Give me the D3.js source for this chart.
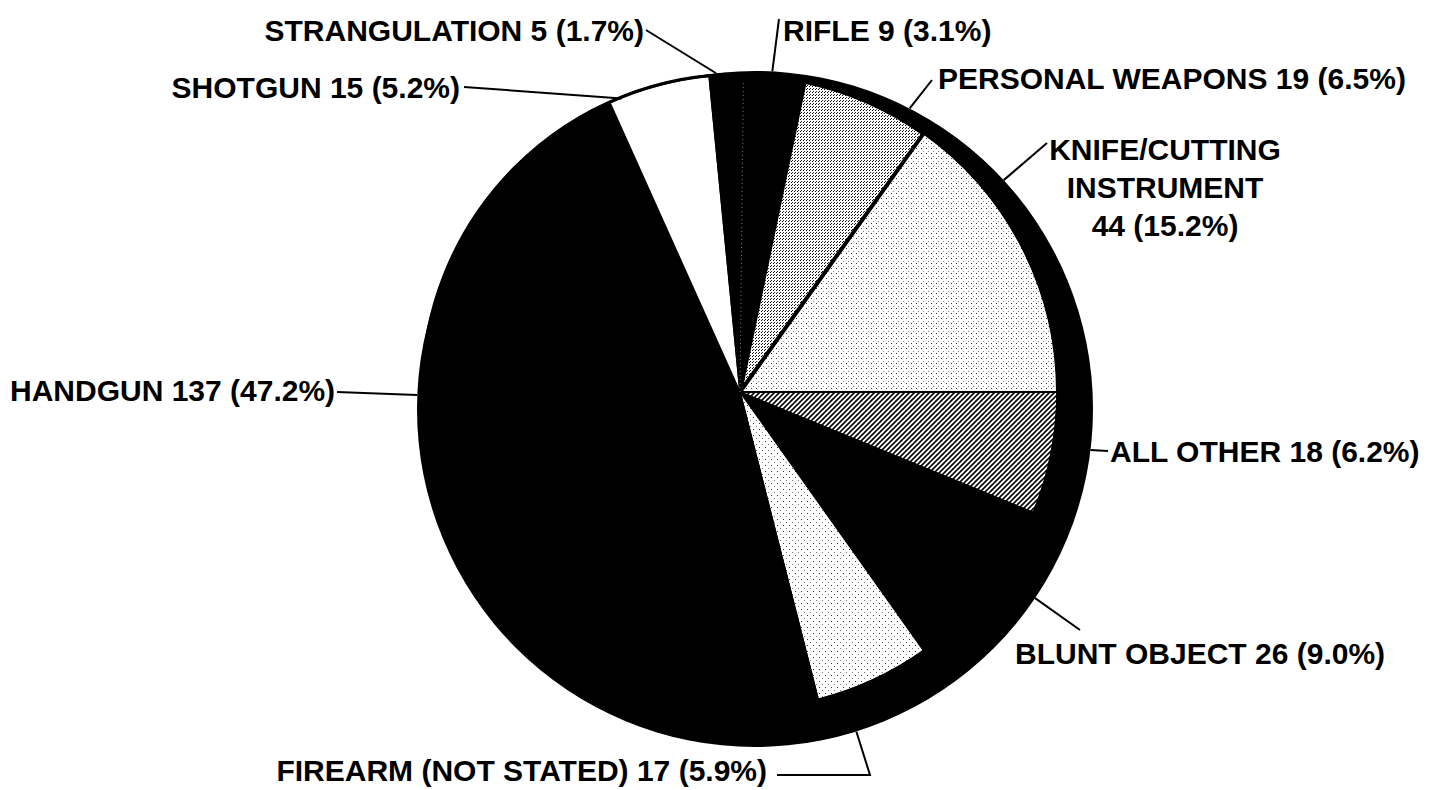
<!DOCTYPE html>
<html><head><meta charset="utf-8">
<script src="https://cdn.jsdelivr.net/npm/d3@7"></script>
<style>
html,body{margin:0;padding:0;background:#fff;}
svg{display:block;}
text{font-family:"Liberation Sans",Arial,Helvetica,sans-serif;font-weight:bold;font-size:30px;fill:#000;}
</style></head><body>
<svg id="chart" width="1433" height="790"></svg>
<script>
// ---- data (clockwise from 3 o'clock) ----
const categories = ["ALL OTHER","BLUNT OBJECT","FIREARM (NOT STATED)","HANDGUN","SHOTGUN","STRANGULATION","RIFLE","PERSONAL WEAPONS","KNIFE/CUTTING INSTRUMENT"];
const counts = [18,26,17,137,15,5,9,19,44];
const percents = ["6.2%","9.0%","5.9%","47.2%","5.2%","1.7%","3.1%","6.5%","15.2%"];

// ---- styles ----
const fills = ["url(#hatch)","#000","url(#dotsLight)","#000","#fff","#000","#000","url(#dotsDense)","url(#dotsSparse)"];
const strokeW = [1.5,1.5,1.5,1.5,1.5,1.5,1.5,4,2];

// ---- label layout ----
const labelLayout = [
  {x:1110, y:462, anchor:"start", from:[1108,451], frac:0.42},
  {x:1015, y:664, anchor:"start", from:[1080,630], frac:0.39},
  {x:767,  y:781, anchor:"end",   from:[777,775], via:[870,775], frac:0.78},
  {x:10,   y:401, anchor:"start", from:[337,392], frac:0.61},
  {x:460,  y:98,  anchor:"end",   from:[464,87], frac:0.12},
  {x:644,  y:41,  anchor:"end",   from:[646,30], frac:0.21},
  {x:783,  y:41,  anchor:"start", from:[779,19], frac:0.46},
  {x:938,  y:89,  anchor:"start", from:[932,80], frac:0.81},
  {x:1165, y:160, anchor:"middle", from:[1047,143], frac:0.29, lineH:38, multi:true}
];

const W = 1433, H = 790;
const cx = 740, cy = 392, r = 318;
const rimDx = 15, rimDy = 17, rimR = 338;

const svg = d3.select("#chart");
const defs = svg.append("defs");

// hatch pattern
const hp = defs.append("pattern").attr("id","hatch").attr("patternUnits","userSpaceOnUse")
  .attr("width",5).attr("height",5);
hp.append("rect").attr("width",5).attr("height",5).attr("fill","#fff");
hp.append("path").attr("d","M-1,1 l2,-2 M0,5 l5,-5 M4,6 l2,-2").attr("stroke","#000").attr("stroke-width",1.6);

// dense dots
const dd = defs.append("pattern").attr("id","dotsDense").attr("patternUnits","userSpaceOnUse")
  .attr("width",3).attr("height",3);
dd.append("rect").attr("width",3).attr("height",3).attr("fill","#fff");
dd.append("rect").attr("x",0).attr("y",0).attr("width",1).attr("height",1).attr("fill","#000");
dd.append("rect").attr("x",1).attr("y",2).attr("width",1).attr("height",1).attr("fill","#222");

// sparse dots
const ds = defs.append("pattern").attr("id","dotsSparse").attr("patternUnits","userSpaceOnUse")
  .attr("width",5).attr("height",5);
ds.append("rect").attr("width",5).attr("height",5).attr("fill","#fff");
ds.append("rect").attr("x",1).attr("y",1).attr("width",1).attr("height",1).attr("fill","#333");
ds.append("rect").attr("x",3).attr("y",4).attr("width",1).attr("height",1).attr("fill","#888");

const dl = defs.append("pattern").attr("id","dotsLight").attr("patternUnits","userSpaceOnUse")
  .attr("width",6).attr("height",6);
dl.append("rect").attr("width",6).attr("height",6).attr("fill","#fff");
dl.append("rect").attr("x",1).attr("y",1).attr("width",1).attr("height",1).attr("fill","#333");
dl.append("rect").attr("x",4).attr("y",4).attr("width",1).attr("height",1).attr("fill","#777");

// black 3-D rim disc
svg.append("circle").attr("cx",cx+rimDx).attr("cy",cy+rimDy).attr("r",rimR).attr("fill","#000");
svg.append("circle").attr("cx",cx).attr("cy",cy).attr("r",r+1).attr("fill","#000");

const pie = d3.pie().sort(null).value(d=>d)
  .startAngle(Math.PI/2).endAngle(Math.PI/2 + 2*Math.PI);
const arcs = pie(counts);
const arc = d3.arc().innerRadius(0).outerRadius(r-1);

const g = svg.append("g").attr("transform",`translate(${cx},${cy})`);
const order = d3.range(arcs.length).sort((a,b)=>strokeW[a]-strokeW[b]);
g.selectAll("path.slice").data(order).join("path")
  .attr("class","slice")
  .attr("d",i=>arc(arcs[i]))
  .attr("fill",i=>fills[i])
  .attr("stroke","#000")
  .attr("stroke-width",i=>strokeW[i])
  .attr("stroke-linejoin","miter");

// faint divider between the two black slices (strangulation / rifle)
const divAng = arcs[6].startAngle - Math.PI/2;
g.append("line").attr("x1",0).attr("y1",0)
  .attr("x2",Math.cos(divAng)*(r-6)).attr("y2",Math.sin(divAng)*(r-6))
  .attr("stroke","#777").attr("stroke-width",1).attr("stroke-dasharray","1,3");

// outer thin outline
svg.append("circle").attr("cx",cx).attr("cy",cy).attr("r",r).attr("fill","none")
  .attr("stroke","#000").attr("stroke-width",3);

// rim point along ray from pie centre (screen angle rad, clockwise from east)
function rimPoint(theta){
  const dx=Math.cos(theta), dy=Math.sin(theta);
  const ox=-rimDx, oy=-rimDy;
  const b = dx*ox+dy*oy;
  const c = ox*ox+oy*oy - rimR*rimR;
  const t = -b + Math.sqrt(b*b - c);
  return [cx+dx*t, cy+dy*t];
}

// labels + leaders
const lg = svg.append("g");
arcs.forEach((a,i)=>{
  const L = labelLayout[i];
  const ang = a.startAngle + (a.endAngle-a.startAngle)*L.frac - Math.PI/2;
  const p = rimPoint(ang);
  const pts = [L.from];
  if (L.via) pts.push(L.via);
  pts.push(p);
  lg.append("path").attr("d", d3.line()(pts)).attr("fill","none")
    .attr("stroke","#000").attr("stroke-width",2);
  let lines;
  if (L.multi) {
    const parts = categories[i].split(" ");
    lines = [...parts, `${counts[i]} (${percents[i]})`];
  } else {
    lines = [`${categories[i]} ${counts[i]} (${percents[i]})`];
  }
  const t = lg.append("text").attr("text-anchor",L.anchor);
  lines.forEach((ln,k)=>{
    t.append("tspan").attr("x",L.x).attr("y",L.y + k*(L.lineH||0)).text(ln);
  });
});
</script>
</body></html>
